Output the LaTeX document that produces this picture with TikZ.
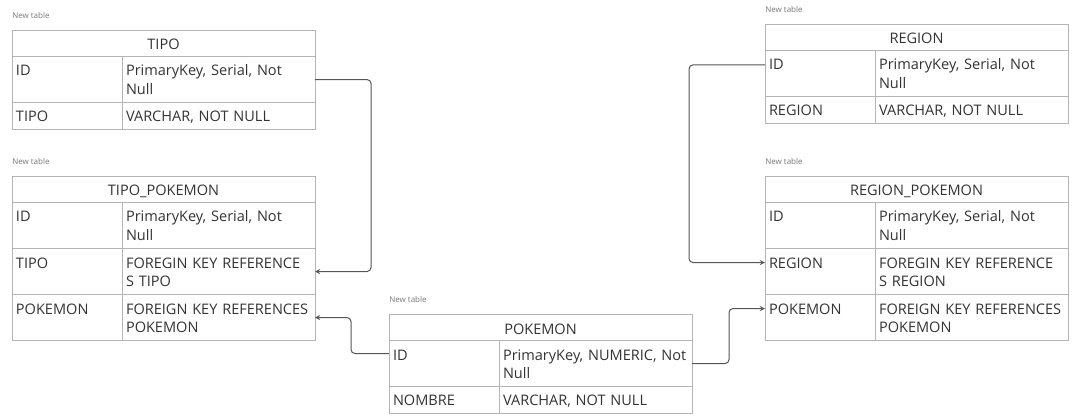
\documentclass[tikz,border=0pt]{standalone}
\usepackage{fontspec}
\setmainfont{Open Sans}
\usepackage{tikz}
\usetikzlibrary{arrows,positioning}
\tikzstyle{cell} = [rectangle, draw=tableline, outer sep=0pt, inner xsep=3pt, inner ysep=0pt, align=left, text=textgray, font=\fontsize{10.9}{14}\selectfont]
\tikzstyle{head} = [cell, align=center, text width=221.25pt, text height=15pt, text depth=4.9pt]
\tikzstyle{keytall} = [cell, text width=76.5pt, text height=14.6pt, text depth=19.9pt]
\tikzstyle{keyshort} = [cell, text width=76.5pt, text height=14.2pt, text depth=6.05pt]
\tikzstyle{valtall} = [cell, text width=138.75pt, text height=14.6pt, text depth=19.9pt]
\tikzstyle{valshort} = [cell, text width=138.75pt, text height=14.2pt, text depth=6.05pt]
\tikzstyle{newtab} = [inner sep=0pt, text=labelgray, font=\fontsize{6}{7}\selectfont]
\tikzstyle{arrow} = [draw=linkgray, line width=0.75pt, rounded corners=3pt, ->, >=stealth]
\definecolor{tableline}{RGB}{180,180,180}
\definecolor{textgray}{RGB}{51,51,51}
\definecolor{labelgray}{RGB}{120,120,120}
\definecolor{linkgray}{RGB}{85,85,85}

\begin{document}
\begin{tikzpicture}[x=0.75pt, y=-0.75pt]
\useasboundingbox (0,0) rectangle (1077,420);
\node (tipo) [head, anchor=north west] at (12,30) {TIPO};
\node (tiponew) [newtab, above right=8pt and 0pt of tipo.north west] {New table};
\node (tipoidk) [keytall, below right=0pt and 0pt of tipo.south west] {ID};
\node (tipoidv) [valtall, right=0pt of tipoidk] {PrimaryKey, Serial, Not\\Null};
\node (tipotipok) [keyshort, below=0pt of tipoidk] {TIPO};
\node (tipotipov) [valshort, right=0pt of tipotipok] {VARCHAR, NOT NULL};

\node (tpok) [head, anchor=north west] at (12,176) {TIPO\_POKEMON};
\node (tpoknew) [newtab, above right=8pt and 0pt of tpok.north west] {New table};
\node (tpokidk) [keytall, below right=0pt and 0pt of tpok.south west] {ID};
\node (tpokidv) [valtall, right=0pt of tpokidk] {PrimaryKey, Serial, Not\\Null};
\node (tpoktipok) [keytall, below=0pt of tpokidk] {TIPO};
\node (tpoktipov) [valtall, right=0pt of tpoktipok] {FOREGIN KEY REFERENCE\\S TIPO};
\node (tpokpokk) [keytall, below=0pt of tpoktipok] {POKEMON};
\node (tpokpokv) [valtall, right=0pt of tpokpokk] {FOREIGN KEY REFERENCES\\POKEMON};

\node (pok) [head, anchor=north west] at (389,314) {POKEMON};
\node (poknew) [newtab, above right=8pt and 0pt of pok.north west] {New table};
\node (pokidk) [keytall, below right=0pt and 0pt of pok.south west] {ID};
\node (pokidv) [valtall, right=0pt of pokidk] {PrimaryKey, NUMERIC, Not\\Null};
\node (poknomk) [keyshort, below=0pt of pokidk] {NOMBRE};
\node (poknomv) [valshort, right=0pt of poknomk] {VARCHAR, NOT NULL};

\node (reg) [head, anchor=north west] at (765,24) {REGION};
\node (regnew) [newtab, above right=8pt and 0pt of reg.north west] {New table};
\node (regidk) [keytall, below right=0pt and 0pt of reg.south west] {ID};
\node (regidv) [valtall, right=0pt of regidk] {PrimaryKey, Serial, Not\\Null};
\node (regregk) [keyshort, below=0pt of regidk] {REGION};
\node (regregv) [valshort, right=0pt of regregk] {VARCHAR, NOT NULL};

\node (rpok) [head, anchor=north west] at (765,176) {REGION\_POKEMON};
\node (rpoknew) [newtab, above right=8pt and 0pt of rpok.north west] {New table};
\node (rpokidk) [keytall, below right=0pt and 0pt of rpok.south west] {ID};
\node (rpokidv) [valtall, right=0pt of rpokidk] {PrimaryKey, Serial, Not\\Null};
\node (rpokregk) [keytall, below=0pt of rpokidk] {REGION};
\node (rpokregv) [valtall, right=0pt of rpokregk] {FOREGIN KEY REFERENCE\\S REGION};
\node (rpokpokk) [keytall, below=0pt of rpokregk] {POKEMON};
\node (rpokpokv) [valtall, right=0pt of rpokpokk] {FOREIGN KEY REFERENCES\\POKEMON};

\draw [arrow] (tipoidv.east) -- ++(56,0) |- (tpoktipov.east);
\draw [arrow] ([yshift=7.5pt]pokidk.west) -- ++(-38,0) |- (tpokpokv.east);
\draw [arrow] (pokidv.east) -- ++(37,0) |- ([yshift=6.75pt]rpokpokk.west);
\draw [arrow] ([yshift=6.5pt]regidk.west) -- ++(-76,0) |- ([yshift=6.75pt]rpokregk.west);
\end{tikzpicture}
\end{document}
